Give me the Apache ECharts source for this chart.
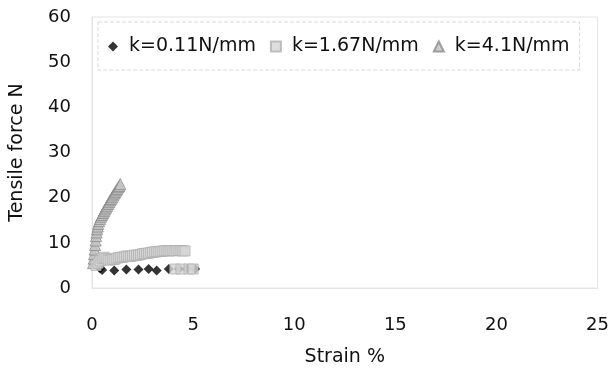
<!DOCTYPE html>
<html>
<head>
<meta charset="utf-8">
<script src="https://cdn.jsdelivr.net/npm/echarts@6/dist/echarts.min.js"></script>
<style>
html,body{margin:0;padding:0;background:#fff;}
#chart{width:612px;height:372px;}
</style>
</head>
<body>
<div id="chart"></div>
<script>
// Tensile force vs strain for three spring constants
const seriesNames = ['k=0.11N/mm', 'k=1.67N/mm', 'k=4.1N/mm'];

const strainK011 = [0.4, 0.5, 1.1, 1.7, 2.3, 2.8, 3.2, 3.8, 4.3, 4.7, 5.1];
const forceK011  = [4.4, 4.0, 3.9, 4.1, 4.1, 4.2, 3.9, 4.2, 4.2, 4.2, 4.2];

const strainK167 = [0.2, 0.3, 0.4, 0.5, 0.6, 0.7, 0.8, 0.9, 1.0, 1.1, 1.2, 1.3, 1.4, 1.5, 1.6, 1.7, 1.8, 1.9, 2.0, 2.1, 2.2, 2.3, 2.4, 2.5, 2.6, 2.7, 2.8, 2.9, 3.0, 3.1, 3.2, 3.3, 3.4, 3.5, 3.6, 3.7, 3.8, 3.9, 4.0, 4.1, 4.2, 4.3, 4.4, 4.5, 4.6, 4.1, 4.4, 4.8, 5.0];
const forceK167  = [5.0, 5.5, 6.0, 6.5, 6.8, 6.5, 6.2, 6.2, 6.4, 6.3, 6.6, 6.7, 6.8, 6.8, 6.9, 7.1, 7.0, 7.0, 7.1, 7.3, 7.2, 7.3, 7.4, 7.6, 7.6, 7.7, 7.7, 7.9, 7.9, 8.0, 8.0, 8.1, 8.1, 8.2, 8.2, 8.3, 8.2, 8.3, 8.3, 8.2, 8.3, 8.3, 8.3, 8.2, 8.2, 4.2, 4.2, 4.2, 4.2];

const strainK41 = [0.05, 0.08, 0.1, 0.13, 0.15, 0.18, 0.2, 0.23, 0.25, 0.28, 0.3, 0.35, 0.4, 0.45, 0.5, 0.55, 0.6, 0.65, 0.7, 0.75, 0.8, 0.85, 0.9, 0.95, 1.0, 1.05, 1.1, 1.15, 1.2, 1.25, 1.3, 1.35, 1.4];
const forceK41  = [5.5, 6.5, 7.5, 8.5, 9.5, 10.5, 11.5, 12.3, 13.0, 13.6, 14.2, 14.8, 15.3, 15.8, 16.2, 16.6, 17.0, 17.4, 17.8, 18.2, 18.6, 19.0, 19.4, 19.7, 20.1, 20.5, 20.9, 21.2, 21.6, 21.9, 22.3, 22.6, 23.0];

const xTicks = [0, 5, 10, 15, 20, 25];
const yTicks = [0, 10, 20, 30, 40, 50, 60];

const pair = (xs, ys) => xs.map((x, i) => [x, ys[i]]);
const FONT = 'DejaVu Sans';
const TEXT = '#111';

const chart = echarts.init(document.getElementById('chart'));
chart.setOption({
  animation: false,
  backgroundColor: '#fff',
  grid: {
    left: 85, right: 14, top: 17, bottom: 84,
    show: true, borderColor: '#e4e4e4', borderWidth: 1
  },
  legend: {
    left: 98, top: 22,
    itemGap: 14, itemWidth: 10, itemHeight: 10,
    padding: [15, 10, 14, 10],
    borderColor: '#d8d8d8', borderWidth: 1, borderType: 'dashed',
    formatter: name => ' ' + name,
    textStyle: { fontFamily: FONT, fontSize: 19, color: TEXT },
    data: seriesNames
  },
  xAxis: {
    type: 'value', min: xTicks[0], max: xTicks[xTicks.length - 1], interval: 5,
    name: 'Strain %', nameLocation: 'middle', nameGap: 60,
    nameTextStyle: { fontFamily: FONT, fontSize: 19, color: TEXT },
    axisLine: { show: true, lineStyle: { color: '#e4e4e4' } },
    axisTick: { show: false },
    splitLine: { show: false },
    axisLabel: { fontFamily: FONT, fontSize: 18, color: TEXT, margin: 28 }
  },
  yAxis: {
    type: 'value', min: yTicks[0], max: yTicks[yTicks.length - 1], interval: 10,
    name: 'Tensile force N', nameLocation: 'middle', nameGap: 65, nameRotate: 90,
    nameTextStyle: { fontFamily: FONT, fontSize: 19, color: TEXT },
    axisLine: { show: true, lineStyle: { color: '#e4e4e4' } },
    axisTick: { show: false },
    splitLine: { show: false },
    axisLabel: { fontFamily: FONT, fontSize: 18, color: TEXT, margin: 21 }
  },
  series: [
    {
      name: seriesNames[0], type: 'scatter', symbol: 'diamond', symbolSize: 10,
      itemStyle: { color: '#000' },
      data: pair(strainK011, forceK011), z: 3
    },
    {
      name: seriesNames[1], type: 'scatter', symbol: 'rect', symbolSize: 10,
      itemStyle: { color: '#d6d6d6', borderColor: '#b0b0b0', borderWidth: 1 },
      data: pair(strainK167, forceK167), z: 4
    },
    {
      name: seriesNames[2], type: 'scatter', symbol: 'triangle', symbolSize: 11,
      itemStyle: { color: '#c4c4c4', borderColor: '#8a8a8a', borderWidth: 1 },
      data: pair(strainK41, forceK41), z: 2
    }
  ]
});
</script>
</body>
</html>
